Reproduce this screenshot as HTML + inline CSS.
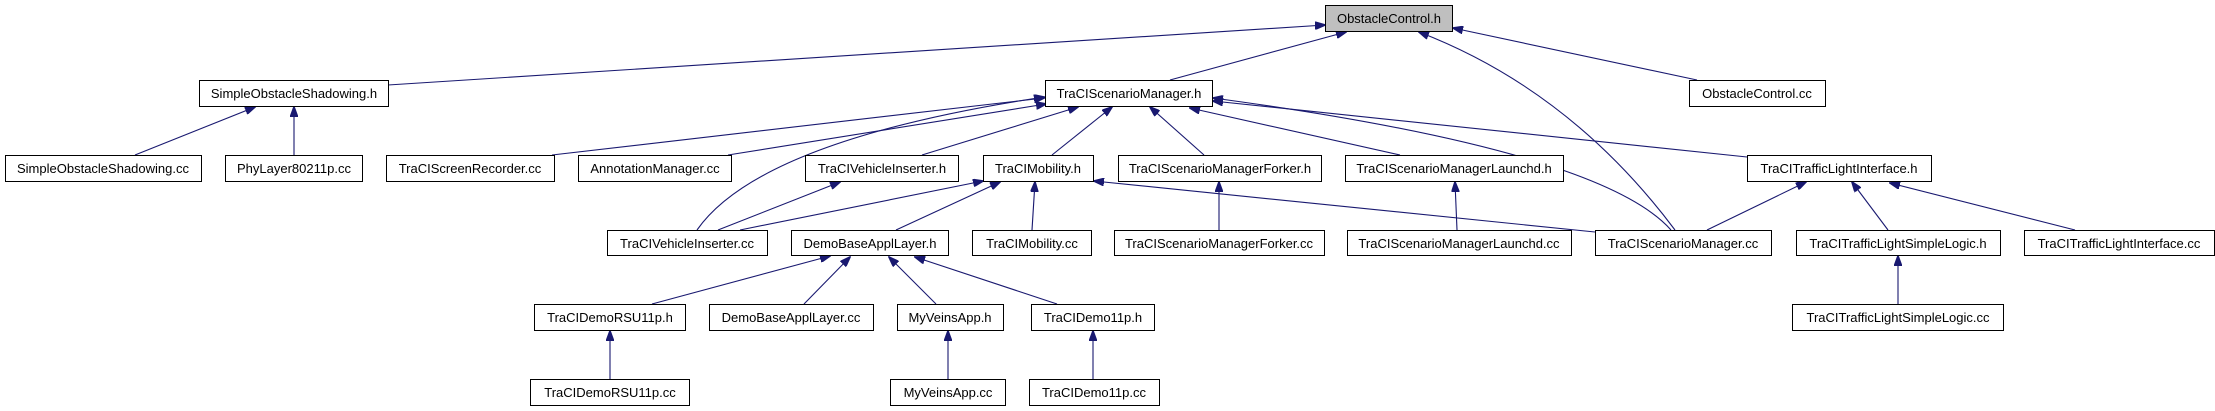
<!DOCTYPE html>
<html><head><meta charset="utf-8"><style>
html,body{margin:0;padding:0;background:#fff;}
svg{display:block;}
text{font-family:"Liberation Sans",Arial,sans-serif;font-size:13px;fill:#000;}
rect{fill:#fff;stroke:#000;stroke-width:1;}
path.e{fill:none;stroke:#191970;stroke-width:1.1;}
</style></head><body>
<svg width="2215" height="411" viewBox="0 0 2215 411" xmlns="http://www.w3.org/2000/svg">
<defs><marker id="a" markerWidth="11" markerHeight="8" refX="10" refY="4" orient="auto" markerUnits="userSpaceOnUse"><path d="M0,0 L11,4 L0,8 Z" fill="#191970" stroke="#191970"/></marker></defs>
<g>
<path class="e" marker-end="url(#a)" d="M388,85 L1325,25"/>
<path class="e" marker-end="url(#a)" d="M1170,80 L1346,32"/>
<path class="e" marker-end="url(#a)" d="M1697,80 L1453,28"/>
<path class="e" marker-end="url(#a)" d="M1675,230 Q1570,90 1419,32"/>
<path class="e" marker-end="url(#a)" d="M135,155 L255,107"/>
<path class="e" marker-end="url(#a)" d="M294,155 L294,107"/>
<path class="e" marker-end="url(#a)" d="M552,155 L1044,98"/>
<path class="e" marker-end="url(#a)" d="M728,155 L1046,104"/>
<path class="e" marker-end="url(#a)" d="M697,230 Q760,140 1044,97"/>
<path class="e" marker-end="url(#a)" d="M718,230 L840,182"/>
<path class="e" marker-end="url(#a)" d="M740,230 L983,181"/>
<path class="e" marker-end="url(#a)" d="M922,155 L1078,107"/>
<path class="e" marker-end="url(#a)" d="M1052,155 L1112,107"/>
<path class="e" marker-end="url(#a)" d="M1204,155 L1150,107"/>
<path class="e" marker-end="url(#a)" d="M1400,155 L1190,108"/>
<path class="e" marker-end="url(#a)" d="M1747,157 L1213,101"/>
<path class="e" marker-end="url(#a)" d="M1671,230 Q1600,150 1213,98"/>
<path class="e" marker-end="url(#a)" d="M1219,230 L1219,182"/>
<path class="e" marker-end="url(#a)" d="M1457,230 L1455,182"/>
<path class="e" marker-end="url(#a)" d="M896,230 L1000,182"/>
<path class="e" marker-end="url(#a)" d="M1032,230 L1035,182"/>
<path class="e" marker-end="url(#a)" d="M1595,232 L1094,181"/>
<path class="e" marker-end="url(#a)" d="M1707,230 L1806,182"/>
<path class="e" marker-end="url(#a)" d="M1888,230 L1852,182"/>
<path class="e" marker-end="url(#a)" d="M2075,230 L1890,183"/>
<path class="e" marker-end="url(#a)" d="M1898,304 L1898,256"/>
<path class="e" marker-end="url(#a)" d="M652,304 L830,256"/>
<path class="e" marker-end="url(#a)" d="M804,304 L850,257"/>
<path class="e" marker-end="url(#a)" d="M936,304 L889,257"/>
<path class="e" marker-end="url(#a)" d="M1057,304 L915,257"/>
<path class="e" marker-end="url(#a)" d="M610,379 L610,331"/>
<path class="e" marker-end="url(#a)" d="M948,379 L948,331"/>
<path class="e" marker-end="url(#a)" d="M1093,379 L1093,331"/>
</g>
<g>
<rect x="1325.5" y="5.5" width="127" height="26" style="fill:#bfbfbf"/><text x="1389" y="23" text-anchor="middle">ObstacleControl.h</text>
<rect x="199.5" y="80.5" width="189" height="26"/><text x="294" y="98" text-anchor="middle">SimpleObstacleShadowing.h</text>
<rect x="1045.5" y="80.5" width="167" height="26"/><text x="1129" y="98" text-anchor="middle">TraCIScenarioManager.h</text>
<rect x="1689.5" y="80.5" width="136" height="26"/><text x="1757" y="98" text-anchor="middle">ObstacleControl.cc</text>

<rect x="5.5" y="155.5" width="196" height="26"/><text x="103" y="173" text-anchor="middle">SimpleObstacleShadowing.cc</text>
<rect x="225.5" y="155.5" width="137" height="26"/><text x="294" y="173" text-anchor="middle">PhyLayer80211p.cc</text>
<rect x="386.5" y="155.5" width="168" height="26"/><text x="470" y="173" text-anchor="middle">TraCIScreenRecorder.cc</text>
<rect x="578.5" y="155.5" width="153" height="26"/><text x="655" y="173" text-anchor="middle">AnnotationManager.cc</text>
<rect x="805.5" y="155.5" width="153" height="26"/><text x="882" y="173" text-anchor="middle">TraCIVehicleInserter.h</text>
<rect x="983.5" y="155.5" width="110" height="26"/><text x="1038" y="173" text-anchor="middle">TraCIMobility.h</text>
<rect x="1118.5" y="155.5" width="203" height="26"/><text x="1220" y="173" text-anchor="middle">TraCIScenarioManagerForker.h</text>
<rect x="1345.5" y="155.5" width="218" height="26"/><text x="1454" y="173" text-anchor="middle">TraCIScenarioManagerLaunchd.h</text>
<rect x="1747.5" y="155.5" width="184" height="26"/><text x="1839" y="173" text-anchor="middle">TraCITrafficLightInterface.h</text>

<rect x="607.5" y="230.5" width="160" height="25"/><text x="687" y="248" text-anchor="middle">TraCIVehicleInserter.cc</text>
<rect x="791.5" y="230.5" width="157" height="25"/><text x="870" y="248" text-anchor="middle">DemoBaseApplLayer.h</text>
<rect x="972.5" y="230.5" width="119" height="25"/><text x="1032" y="248" text-anchor="middle">TraCIMobility.cc</text>
<rect x="1114.5" y="230.5" width="210" height="25"/><text x="1219" y="248" text-anchor="middle">TraCIScenarioManagerForker.cc</text>
<rect x="1347.5" y="230.5" width="224" height="25"/><text x="1459" y="248" text-anchor="middle">TraCIScenarioManagerLaunchd.cc</text>
<rect x="1595.5" y="230.5" width="176" height="25"/><text x="1683" y="248" text-anchor="middle">TraCIScenarioManager.cc</text>
<rect x="1796.5" y="230.5" width="204" height="25"/><text x="1898" y="248" text-anchor="middle">TraCITrafficLightSimpleLogic.h</text>
<rect x="2024.5" y="230.5" width="190" height="25"/><text x="2119" y="248" text-anchor="middle">TraCITrafficLightInterface.cc</text>

<rect x="534.5" y="304.5" width="151" height="26"/><text x="610" y="322" text-anchor="middle">TraCIDemoRSU11p.h</text>
<rect x="709.5" y="304.5" width="164" height="26"/><text x="791" y="322" text-anchor="middle">DemoBaseApplLayer.cc</text>
<rect x="897.5" y="304.5" width="106" height="26"/><text x="950" y="322" text-anchor="middle">MyVeinsApp.h</text>
<rect x="1031.5" y="304.5" width="123" height="26"/><text x="1093" y="322" text-anchor="middle">TraCIDemo11p.h</text>
<rect x="1792.5" y="304.5" width="211" height="26"/><text x="1898" y="322" text-anchor="middle">TraCITrafficLightSimpleLogic.cc</text>

<rect x="530.5" y="379.5" width="159" height="26"/><text x="610" y="397" text-anchor="middle">TraCIDemoRSU11p.cc</text>
<rect x="890.5" y="379.5" width="115" height="26"/><text x="948" y="397" text-anchor="middle">MyVeinsApp.cc</text>
<rect x="1029.5" y="379.5" width="130" height="26"/><text x="1094" y="397" text-anchor="middle">TraCIDemo11p.cc</text>
</g>
</svg>
</body></html>
